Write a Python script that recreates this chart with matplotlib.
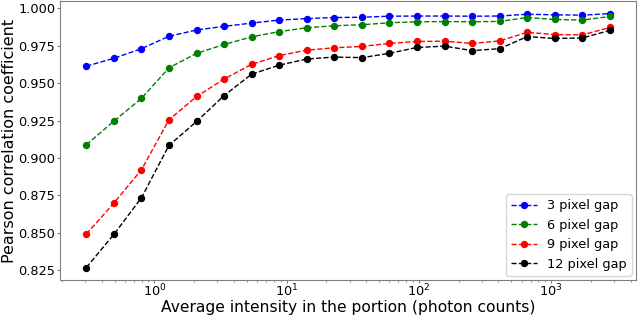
import matplotlib
matplotlib.use("Agg")
import matplotlib.pyplot as plt

# average intensity per portion (photon counts)
intensity = [0.306, 0.495, 0.799, 1.29, 2.09, 3.37, 5.45, 8.81, 14.2, 23.0,
             37.2, 60.0, 97.0, 157, 253, 409, 661, 1069, 1727, 2790]

gap3 = [0.9613, 0.9666, 0.9730, 0.9813, 0.9855, 0.9879, 0.9901, 0.9921, 0.9931, 0.9938,
        0.9940, 0.9947, 0.9948, 0.9948, 0.9947, 0.9948, 0.9960, 0.9956, 0.9954, 0.9964]
gap6 = [0.9088, 0.9246, 0.9398, 0.9602, 0.9699, 0.9758, 0.9809, 0.9844, 0.9870, 0.9883,
        0.9890, 0.9903, 0.9910, 0.9911, 0.9910, 0.9912, 0.9938, 0.9925, 0.9921, 0.9945]
gap9 = [0.8492, 0.8699, 0.8921, 0.9255, 0.9411, 0.9527, 0.9626, 0.9684, 0.9720, 0.9736,
        0.9745, 0.9765, 0.9778, 0.9780, 0.9765, 0.9782, 0.9839, 0.9824, 0.9822, 0.9872]
gap12 = [0.8268, 0.8490, 0.8734, 0.9084, 0.9244, 0.9417, 0.9560, 0.9620, 0.9661, 0.9674,
         0.9670, 0.9699, 0.9738, 0.9747, 0.9717, 0.9730, 0.9811, 0.9798, 0.9802, 0.9852]

series = [("3 pixel gap", gap3, "blue"), ("6 pixel gap", gap6, "green"),
          ("9 pixel gap", gap9, "red"), ("12 pixel gap", gap12, "black")]

fig = plt.figure(figsize=(6.4, 3.17), dpi=100)
ax = fig.add_axes([0.094, 0.116, 0.900, 0.881])
for label, vals, col in series:
    ax.plot(intensity, vals, "--o", color=col, label=label, linewidth=1, markersize=4.3)
ax.set_xscale("log")
ax.set_xlabel("Average intensity in the portion (photon counts)", fontsize=11.2, labelpad=0)
ax.set_ylabel("Pearson correlation coefficient", fontsize=11.5, labelpad=1)
ax.tick_params(labelsize=9.3, length=2, pad=1.5, color="#808080")
ax.tick_params(axis="x", pad=0)
ax.tick_params(which="minor", length=1.2, color="#808080")
for sp in ax.spines.values():
    sp.set_color("#808080")
ax.legend(loc="lower right", fontsize=9.3, borderaxespad=0.35)
fig.savefig("out.png")
